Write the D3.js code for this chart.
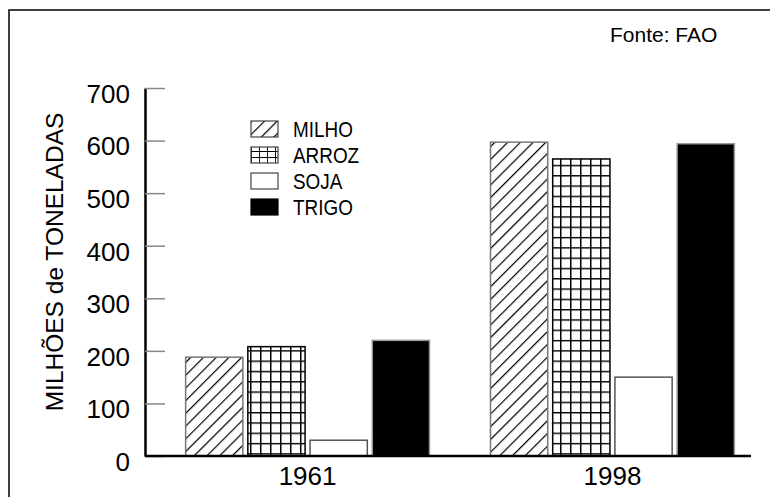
<!DOCTYPE html>
<meta charset="utf-8">
<script src="https://d3js.org/d3.v7.min.js"></script>
<style>
  body { margin: 0; background: #fff; }
  text { font-family: "Liberation Sans", Arial, sans-serif; fill: #000; }
</style>
<div id="my_dataviz"></div>
<script>
// data
var years = ["1961", "1998"];
var crops = ["MILHO", "ARROZ", "SOJA", "TRIGO"];
var milho = [188, 597];
var arroz = [208, 565];
var soja = [30, 150];
var trigo = [220, 594];
var yTicks = [0, 100, 200, 300, 400, 500, 600, 700];

var values = { MILHO: milho, ARROZ: arroz, SOJA: soja, TRIGO: trigo };

var W = 770, H = 497;
var axisX = 145, axisRight = 751;

var svg = d3.select("#my_dataviz")
  .append("svg")
    .attr("width", W)
    .attr("height", H);

// patterns
var defs = svg.append("defs");
defs.append("pattern")
    .attr("id", "hatch")
    .attr("patternUnits", "userSpaceOnUse")
    .attr("width", 9).attr("height", 9)
    .attr("patternTransform", "rotate(45)")
  .append("line")
    .attr("x1", 0).attr("y1", 0).attr("x2", 0).attr("y2", 9)
    .attr("stroke", "#000").attr("stroke-width", 2.4);

var grid = defs.append("pattern")
    .attr("id", "grid")
    .attr("patternUnits", "userSpaceOnUse")
    .attr("width", 10).attr("height", 10.3);
grid.append("rect").attr("width", 10).attr("height", 10.3).attr("fill", "#fff");
grid.append("path").attr("d", "M0,0V10.3M0,0H10").attr("stroke", "#000").attr("stroke-width", 3);

var gridSm = defs.append("pattern")
    .attr("id", "grid-sm")
    .attr("patternUnits", "userSpaceOnUse")
    .attr("width", 8).attr("height", 6);
gridSm.append("rect").attr("width", 8).attr("height", 6).attr("fill", "#fff");
gridSm.append("path").attr("d", "M0,0V6M0,0H8").attr("stroke", "#000").attr("stroke-width", 1.8);

var fills = { MILHO: "url(#hatch)", ARROZ: "url(#grid)", SOJA: "#fff", TRIGO: "#000" };
var legendFills = { MILHO: "url(#hatch)", ARROZ: "url(#grid-sm)", SOJA: "#fff", TRIGO: "#000" };
var strokes = { MILHO: "#777", ARROZ: "#000", SOJA: "#555", TRIGO: "#999" };

// frame
svg.append("rect")
  .attr("x", 9).attr("y", 10)
  .attr("width", 800).attr("height", 520)
  .attr("fill", "none").attr("stroke", "#000").attr("stroke-width", 1.5);

svg.append("text")
  .attr("x", 610).attr("y", 42)
  .style("font-size", "21px")
  .text("Fonte: FAO");

// scales
var y = d3.scaleLinear()
  .domain([0, 700])
  .range([456, 88]);

var x = d3.scaleBand()
  .domain(years)
  .range([146, 774])
  .paddingInner(0.2)
  .paddingOuter(0.13);

var xSub = d3.scaleBand()
  .domain(crops)
  .range([0, x.bandwidth()])
  .paddingInner(0.08);

// bars
var rows = [];
years.forEach(function(yr, i) {
  crops.forEach(function(c) { rows.push({ year: yr, crop: c, value: values[c][i] }); });
});

svg.append("g")
  .selectAll("rect")
  .data(rows)
  .enter()
  .append("rect")
    .attr("x", function(d) { return x(d.year) + xSub(d.crop); })
    .attr("y", function(d) { return y(d.value); })
    .attr("width", xSub.bandwidth())
    .attr("height", function(d) { return y(0) - y(d.value); })
    .attr("fill", function(d) { return fills[d.crop]; })
    .attr("stroke", function(d) { return strokes[d.crop]; })
    .attr("stroke-width", 1.5);

// y axis, ticks pointing inward
var yAxis = svg.append("g")
  .attr("transform", "translate(" + axisX + ",0)")
  .call(d3.axisLeft(y).tickValues(yTicks).tickSizeInner(-20).tickSizeOuter(0).tickPadding(15));
yAxis.select(".domain").attr("stroke", "#000").attr("stroke-width", 2.5);
yAxis.selectAll(".tick line").attr("stroke", "#888").attr("stroke-width", 1.5);
yAxis.selectAll(".tick text")
  .attr("dy", "0.55em")
  .style("font-size", "26px")
  .style("font-family", "'Liberation Sans', Arial, sans-serif");

// x axis
svg.append("line")
  .attr("x1", axisX).attr("x2", axisRight)
  .attr("y1", y(0)).attr("y2", y(0))
  .attr("stroke", "#000").attr("stroke-width", 2.5);

var xAxis = svg.append("g")
  .attr("transform", "translate(0," + y(0) + ")")
  .call(d3.axisBottom(x).tickSize(0).tickPadding(11));
xAxis.select(".domain").remove();
xAxis.selectAll(".tick text")
  .style("font-size", "26px")
  .style("font-family", "'Liberation Sans', Arial, sans-serif");

// y label
svg.append("text")
  .attr("transform", "translate(63,262) rotate(-90)")
  .style("text-anchor", "middle")
  .style("font-size", "24.5px")
  .text("MILHÕES de TONELADAS");

// legend
var legend = svg.append("g").attr("transform", "translate(251,121)");
crops.forEach(function(c, i) {
  legend.append("rect")
    .attr("x", 0).attr("y", i * 26)
    .attr("width", 27).attr("height", 16)
    .attr("fill", legendFills[c])
    .attr("stroke", c === "TRIGO" ? "#000" : "#444")
    .attr("stroke-width", 1.2);
  legend.append("text")
    .attr("transform", "translate(42," + (i * 26 + 16) + ") scale(0.86,1)")
    .style("font-size", "22px")
    .text(c);
});
</script>
